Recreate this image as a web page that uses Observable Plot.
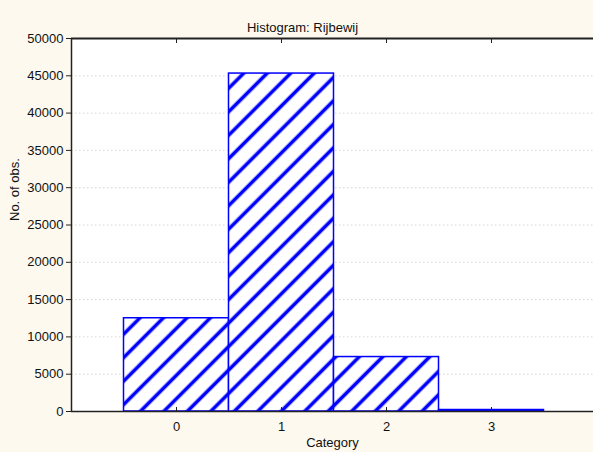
<!DOCTYPE html>
<html>
<head>
<meta charset="utf-8">
<script src="https://cdn.jsdelivr.net/npm/d3@7"></script>
<script src="https://cdn.jsdelivr.net/npm/@observablehq/plot@0.6"></script>
<style>
  html, body { margin: 0; padding: 0; background: #fdf9ef; }
  #chart { width: 593px; height: 452px; overflow: hidden; }
</style>
</head>
<body>
<div id="chart"></div>
<script>
// Histogram of the "Rijbewij" variable: number of observations per category
const categories = [0, 1, 2, 3];
const counts = [12500, 45300, 7300, 200];
const yTicks = [0, 5000, 10000, 15000, 20000, 25000, 30000, 35000, 40000, 45000, 50000];
const gridTicks = [5000, 10000, 15000, 20000, 25000, 30000, 35000, 40000, 45000];
const titleText = "Histogram: Rijbewij";
const xLabel = "Category";
const yLabel = "No. of obs.";

const bins = categories.map((c, i) => ({category: c, count: counts[i]}));

const axisColor = "#222";
const barColor = "#0000ff";

const chart = Plot.plot({
  width: 593,
  height: 452,
  marginTop: 38,
  marginBottom: 41,
  marginLeft: 71,
  marginRight: 0,
  style: {background: "#fdf9ef", fontFamily: "Liberation Sans, Arial, sans-serif", fontSize: "13px", color: "#111"},
  x: {domain: [-1, 4], range: [71, 596], axis: null},
  y: {domain: [0, 50000], axis: null},
  marks: [
    Plot.frame({fill: "white", stroke: null}),
    Plot.gridY(gridTicks, {stroke: "#d6d6d6", strokeOpacity: 1, strokeDasharray: "1.5,2.5"}),
    Plot.rect(bins, {
      x1: d => d.category - 0.5,
      x2: d => d.category + 0.5,
      y1: 0,
      y2: "count",
      fill: "url(#hatch)",
      stroke: barColor,
      strokeWidth: 1.5
    }),
    // frame lines: left, bottom, top
    Plot.ruleX([-1], {stroke: axisColor, strokeWidth: 1.5}),
    Plot.ruleY([0], {stroke: axisColor, strokeWidth: 1.5}),
    Plot.ruleY([50000], {stroke: axisColor, strokeWidth: 2}),
    Plot.axisY({ticks: yTicks, tickSize: 5, tickPadding: 3, tickFormat: d3.format("d"), label: null, stroke: axisColor, fontSize: 13}),
    Plot.axisX({anchor: "bottom", ticks: categories, tickSize: 0, tickPadding: 10.5, tickFormat: d3.format("d"), label: null, fontSize: 13}),
    // short inward ticks on the bottom and top edges
    Plot.axisX({anchor: "bottom", ticks: categories, tickSize: 4, dy: -4, tickFormat: () => "", label: null, stroke: axisColor}),
    Plot.axisX({anchor: "top", ticks: categories, tickSize: 4, dy: 4, tickFormat: () => "", label: null, stroke: axisColor}),
    Plot.text([titleText], {frameAnchor: "top", dx: -30, dy: -16, fontSize: 13, fill: "#111"}),
    Plot.text([yLabel], {frameAnchor: "left", rotate: -90, dx: -57, dy: -4, fontSize: 13, fill: "#111"}),
    Plot.text([xLabel], {frameAnchor: "bottom", dy: 35, fontSize: 13, fill: "#111"})
  ]
});

// diagonal hatch fill used by the bars
const svg = d3.select(chart);
const defs = svg.insert("defs", ":first-child");
const step = 16.6;
const pattern = defs.append("pattern")
  .attr("id", "hatch")
  .attr("patternUnits", "userSpaceOnUse")
  .attr("width", step)
  .attr("height", step)
  .attr("patternTransform", "rotate(45)");
pattern.append("rect").attr("width", step).attr("height", step).attr("fill", "white");
pattern.append("line")
  .attr("x1", step / 2).attr("y1", 0)
  .attr("x2", step / 2).attr("y2", step)
  .attr("stroke", barColor)
  .attr("stroke-width", 3.6);

document.getElementById("chart").appendChild(chart);
</script>
</body>
</html>
